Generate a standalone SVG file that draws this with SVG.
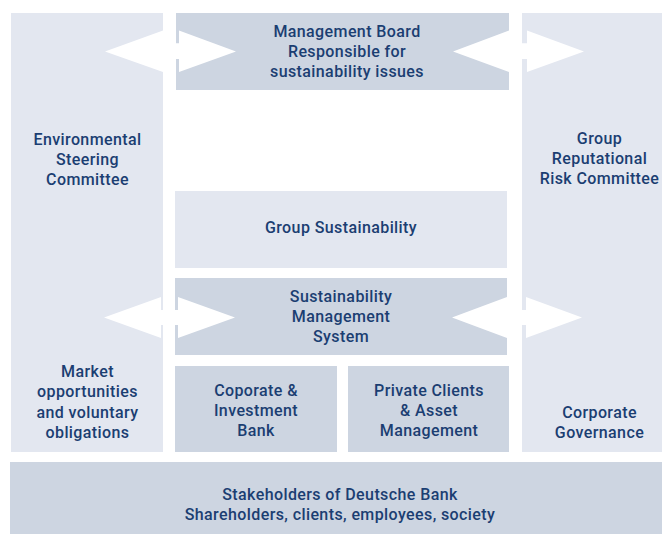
<svg xmlns="http://www.w3.org/2000/svg" width="662" height="535" viewBox="0 0 662 535">
<style>
.l{fill:#e3e7f0}
.d{fill:#cdd5e1}
.a{fill:#ffffff}
text{font-family:Roboto,"Liberation Sans",sans-serif;font-weight:500;font-size:16px;letter-spacing:0.4px;fill:#1b3e72;text-anchor:middle}
</style>
<rect width="662" height="535" fill="#ffffff"/>
<g id="env-committee">
<rect class="l" x="11" y="13" width="152" height="439"/>
<text x="87.5" y="145">Environmental</text>
<text x="87.5" y="165">Steering</text>
<text x="87.5" y="185">Committee</text>
<text x="87.5" y="377">Market</text>
<text x="87.5" y="397">opportunities</text>
<text x="87.5" y="418">and voluntary</text>
<text x="87.5" y="438">obligations</text>
</g>
<g id="risk-committee">
<rect class="l" x="522" y="13" width="140" height="439"/>
<text x="599.5" y="144">Group</text>
<text x="599.5" y="164">Reputational</text>
<text x="599.5" y="184">Risk Committee</text>
<text x="599.5" y="418">Corporate</text>
<text x="599.5" y="438">Governance</text>
</g>
<g id="management-board">
<rect class="d" x="176" y="13" width="333" height="77"/>
<text x="347" y="37">Management Board</text>
<text x="347" y="57">Responsible for</text>
<text x="347" y="77">sustainability issues</text>
</g>
<g id="group-sustainability">
<rect class="l" x="175" y="191" width="332" height="77"/>
<text x="341" y="233">Group Sustainability</text>
</g>
<g id="sms">
<rect class="d" x="175" y="278" width="332" height="77"/>
<text x="341" y="302">Sustainability</text>
<text x="341" y="322">Management</text>
<text x="341" y="342">System</text>
</g>
<g id="cib">
<rect class="d" x="175" y="366" width="162" height="86"/>
<text x="256" y="396">Coporate &amp;</text>
<text x="256" y="416">Investment</text>
<text x="256" y="436">Bank</text>
</g>
<g id="pcam">
<rect class="d" x="348" y="366" width="161" height="86"/>
<text x="429" y="396">Private Clients</text>
<text x="429" y="416">&amp; Asset</text>
<text x="429" y="436">Management</text>
</g>
<g id="stakeholders">
<rect class="d" x="10" y="462" width="652" height="72"/>
<text x="340" y="500">Stakeholders of Deutsche Bank</text>
<text x="340" y="520">Shareholders, clients, employees, society</text>
</g>
<g id="connectors">
<polygon class="a" points="105,51.5 163,30.5 163,43.3 179,43.3 179,30.5 236,51.5 179,72 179,59 163,59 163,72"/>
<polygon class="a" points="453,51.5 509,30.5 509,43.3 527,43.3 527,30.5 584,51.5 527,72 527,59 509,59 509,72"/>
<polygon class="a" points="104,317.5 161,297 161,310 178,310 178,297 235,317.5 178,338 178,325 161,325 161,338"/>
<polygon class="a" points="452,317.5 507,297 507,310 526,310 526,297 582,317.5 526,338 526,325 507,325 507,338"/>
</g>
</svg>
